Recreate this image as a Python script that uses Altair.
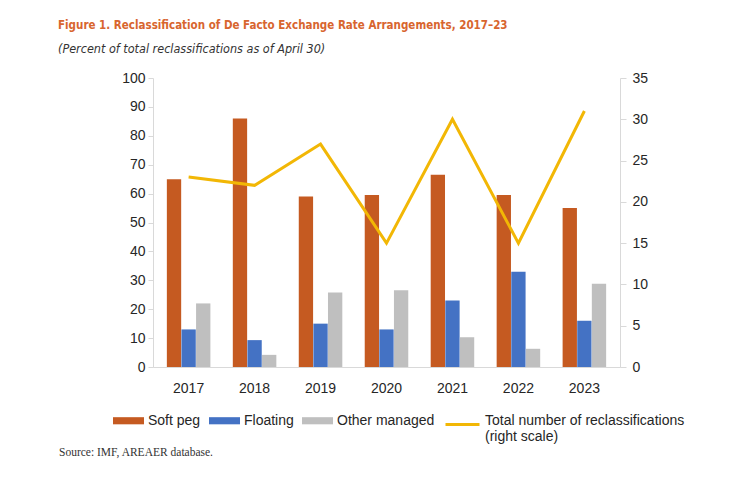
import altair as alt
import pandas as pd

years = ["2017", "2018", "2019", "2020", "2021", "2022", "2023"]
series = ["Soft peg", "Floating", "Other managed"]
soft_peg = [65, 86, 59, 59.5, 66.5, 59.5, 55]
floating = [13, 9.3, 15, 13, 23, 33, 16]
other_managed = [22, 4.2, 25.8, 26.6, 10.3, 6.3, 28.8]
total_reclass = [23, 22, 27, 15, 30, 15, 31]
line_label = "Total number of reclassifications"

colors = ["#C55A21", "#4472C4", "#BFBFBF"]
line_color = "#F2B705"
title_color = "#D8652E"

rows = []
for i, y in enumerate(years):
    for s, vals in zip(series, [soft_peg, floating, other_managed]):
        rows.append({"year": y, "series": s, "value": vals[i]})
bars_df = pd.DataFrame(rows)
line_df = pd.DataFrame({"year": years, "total": total_reclass, "label": [line_label] * len(years)})
src_df = pd.DataFrame({"t": ["Source: IMF, AREAER database."]})

x_enc = alt.X("year:N", sort=years, title=None,
              scale=alt.Scale(paddingInner=0.34, paddingOuter=0.21),
              axis=alt.Axis(labelAngle=0, ticks=False, labelPadding=14, labelFontSize=14,
                            labelColor="#262626", domainColor="#D9D9D9", labelFont="Liberation Sans"))

bars = alt.Chart(bars_df).mark_bar().encode(
    x=x_enc,
    xOffset=alt.XOffset("series:N", sort=series, scale=alt.Scale(domain=series, paddingInner=0.02)),
    y=alt.Y("value:Q", title=None,
            scale=alt.Scale(domain=[0, 100], nice=False),
            axis=alt.Axis(values=list(range(0, 101, 10)), grid=False, tickSize=5,
                          tickColor="#D9D9D9", domainColor="#D9D9D9", labelFontSize=14,
                          labelColor="#262626", labelPadding=3, labelFont="Liberation Sans")),
    color=alt.Color("series:N", sort=series,
                    scale=alt.Scale(domain=series, range=colors),
                    legend=alt.Legend(orient="none", legendX=-40, legendY=327, direction="horizontal",
                                      title=None, symbolType="M-1,-0.23L1,-0.23L1,0.23L-1,0.23Z",
                                      symbolSize=961, symbolStrokeWidth=0, labelFontSize=14,
                                      labelOffset=4, columnPadding=8, labelColor="#262626",
                                      labelFont="Liberation Sans")),
)

line = alt.Chart(line_df).mark_line(strokeWidth=3).encode(
    x=alt.X("year:N", sort=years),
    y=alt.Y("total:Q", title=None,
            scale=alt.Scale(domain=[0, 35], nice=False),
            axis=alt.Axis(orient="right", values=list(range(0, 36, 5)), grid=False, tickSize=6,
                          tickColor="#D9D9D9", domainColor="#D9D9D9", labelFontSize=14,
                          labelColor="#262626", labelPadding=6, labelFont="Liberation Sans")),
    stroke=alt.Stroke("label:N", scale=alt.Scale(domain=[line_label], range=[line_color]),
                      legend=alt.Legend(orient="none", legendX=291, legendY=328, title=None,
                                        symbolType="stroke", symbolSize=1156, symbolStrokeWidth=3,
                                        labelExpr="['Total number of reclassifications', '(right scale)']",
                                        labelBaseline="alphabetic", labelLimit=400, labelFontSize=14,
                                        labelOffset=4, labelColor="#262626",
                                        labelFont="Liberation Sans")),
)

source = alt.Chart(src_df).mark_text(align="right", baseline="alphabetic", font="Liberation Serif",
                                     fontSize=11.5, color="#333333").encode(
    text="t:N", x=alt.value(60), y=alt.value(378))

chart = alt.layer(bars, line, source).resolve_scale(y="independent").properties(
    width=467, height=289,
    autosize=alt.AutoSizeParams(type="none"),
    padding={"left": 145, "top": 70, "right": 122, "bottom": 125},
    title=alt.Title(
        "Figure 1. Reclassification of De Facto Exchange Rate Arrangements, 2017–23",
        subtitle="(Percent of total reclassifications as of April 30)",
        anchor="start", frame="group", dx=-95, offset=16,
        font="Liberation Sans Narrow, DejaVu Sans Condensed, sans-serif", fontSize=11.5, fontWeight="bold",
        color=title_color,
        subtitleFont="Liberation Sans Narrow, DejaVu Sans Condensed, sans-serif",
        subtitleFontSize=12.5, subtitleFontStyle="italic", subtitleColor="#333333", subtitlePadding=11,
    ),
).configure_view(stroke=None)

chart.save("out.html", embed_options={"renderer": "svg", "actions": False})
